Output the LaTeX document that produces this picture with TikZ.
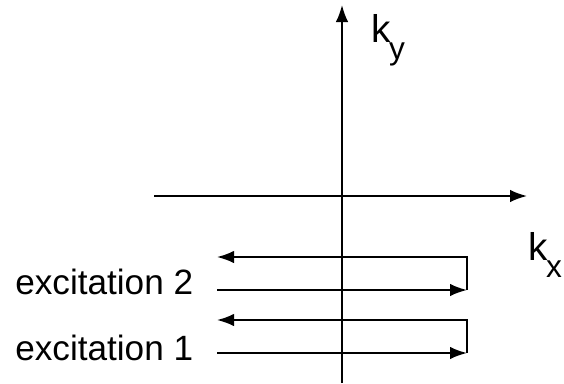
\documentclass[tikz,border=0pt]{standalone}
\usepackage{fontspec}
\setmainfont{Liberation Sans}
\usepackage{tikz}
\usetikzlibrary{arrows.meta}

\begin{document}
\begin{tikzpicture}[x=0.2mm,y=-0.2mm,>={Latex[length=3.4mm,width=2.5mm]},
  ax/.style={line width=1pt},
  traj/.style={line width=1.1pt,line join=miter},
  lab/.style={font=\fontsize{20}{24}\selectfont,inner sep=0pt},
  klab/.style={font=\fontsize{22}{26}\selectfont,inner sep=0pt}]
\useasboundingbox (0,0) rectangle (564,383);
% axes
\coordinate (kytop) at (342,5);
\coordinate (kybot) at (342,383);
\coordinate (kxleft) at (154,196);
\coordinate (kxright) at (527,196);
\draw[ax,->] (kybot) -- (kytop);
\draw[ax,->] (kxleft) -- (kxright);
\node[klab,anchor=base west] (ky) at (371,42)
  {k\kern-0.3mm\raisebox{-3.4mm}{\fontsize{18}{21}\selectfont y}};
\node[klab,anchor=base west] (kx) at (528,260)
  {k\kern-0.3mm\raisebox{-3.4mm}{\fontsize{18}{21}\selectfont x}};
% excitation 2
\node[lab,anchor=base west] (exc2) at (15,294) {excitation 2};
\coordinate (in2) at (217,290);
\coordinate (turn2a) at (467,290);
\coordinate (turn2b) at (467,257);
\coordinate (out2) at (217,257);
\draw[traj,->] (in2) -- (turn2a);
\draw[traj,->] (turn2a) -- (turn2b) -- (out2);
% excitation 1
\node[lab,anchor=base west] (exc1) at (15,360) {excitation 1};
\coordinate (in1) at (217,353);
\coordinate (turn1a) at (467,353);
\coordinate (turn1b) at (467,320);
\coordinate (out1) at (217,320);
\draw[traj,->] (in1) -- (turn1a);
\draw[traj,->] (turn1a) -- (turn1b) -- (out1);
\end{tikzpicture}
\end{document}
